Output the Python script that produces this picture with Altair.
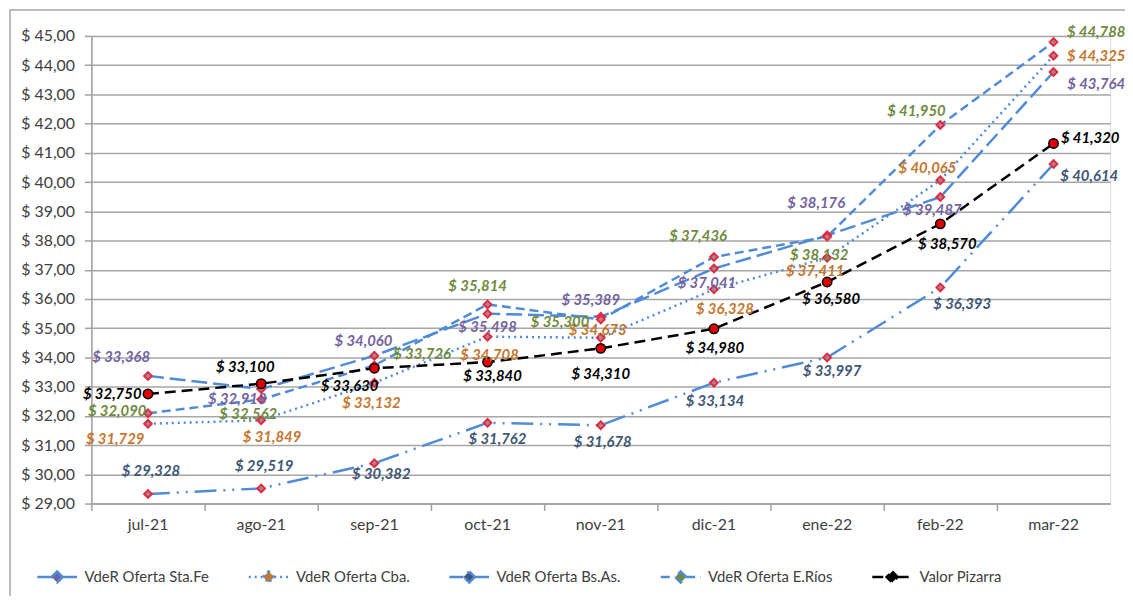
import altair as alt
import pandas as pd

months = ["jul-21", "ago-21", "sep-21", "oct-21", "nov-21", "dic-21", "ene-22", "feb-22", "mar-22"]
series_names = ["VdeR Oferta Sta.Fe", "VdeR Oferta Cba.", "VdeR Oferta Bs.As.", "VdeR Oferta E.Ríos", "Valor Pizarra"]

sta_fe = [33.368, 32.918, 34.060, 35.498, 35.389, 37.041, 38.176, 39.487, 43.764]
cba = [31.729, 31.849, 33.132, 34.708, 34.673, 36.328, 37.411, 40.065, 44.325]
bs_as = [29.328, 29.519, 30.382, 31.762, 31.678, 33.134, 33.997, 36.393, 40.614]
e_rios = [32.090, 32.562, 33.726, 35.814, 35.300, 37.436, 38.132, 41.950, 44.788]
pizarra = [32.750, 33.100, 33.630, 33.840, 34.310, 34.980, 36.580, 38.570, 41.320]

# label placement offsets (pixels), kept apart from the values
label_dx = {
    "VdeR Oferta Sta.Fe": [-27, -24, -11, 0, -10, -7, -11, -8, 43],
    "VdeR Oferta Cba.": [-33, 11, -3, 2, -3, 11, -12, -13, 43],
    "VdeR Oferta Bs.As.": [3, 3, 7, 10, 2, 1, 5, 22, 36],
    "VdeR Oferta E.Ríos": [-31, -13, 48, -10, -41, -16, -8, -24, 43],
    "Valor Pizarra": [-36, -16, -25, 5, 0, 1, 4, 7, 37],
}
label_dy = {
    "VdeR Oferta Sta.Fe": [-19, 10, -15, 13, -17, 15, -33, 13, 12],
    "VdeR Oferta Cba.": [15, 17, 20, 18, -8, 20, 13, -12, 0],
    "VdeR Oferta Bs.As.": [-23, -23, 11, 16, 17, 18, 14, 17, 12],
    "VdeR Oferta E.Ríos": [-2, 15, -11, -18, 3, -21, 19, -14, -10],
    "Valor Pizarra": [0, -17, 18, 14, 26, 19, 17, 20, -5],
}

values_by_series = dict(zip(series_names, [sta_fe, cba, bs_as, e_rios, pizarra]))

rows = []
for s in series_names:
    for i, m in enumerate(months):
        rows.append({"series": s, "month": m, "value": values_by_series[s][i],
                     "dx": label_dx[s][i], "dy": label_dy[s][i]})
df = pd.DataFrame(rows)

line_colors = ["#4F8BD6", "#4F8BD6", "#4F8BD6", "#4F8BD6", "#000000"]
label_colors = ["#7463A0", "#C5762E", "#3E5674", "#6E8A3E", "#000000"]
dashes = [[16, 6], [2, 4], [22, 7, 2, 7, 2, 7], [9, 5], [11, 6]]
widths = [2.5, 2.5, 2.5, 2.5, 4.5]

FONT = "Lato"
PLOT_W, PLOT_H = 1026, 471
Y_MIN, Y_MAX = 29, 45
STEP = PLOT_W / len(months)
PX_PER_UNIT = PLOT_H / (Y_MAX - Y_MIN)

legend_kw = dict(
    title=None, orient="none", legendX=-56, legendY=523, direction="horizontal",
    columns=5, labelFont=FONT, labelFontSize=15, labelColor="#404040",
    symbolType="M-1,0L-0.28,0M0.28,0L1,0M0,-0.28L0.28,0L0,0.28L-0.28,0Z",
    symbolSize=1600, columnPadding=34, labelOffset=6,
)

y_scale = alt.Scale(domain=[Y_MIN, Y_MAX], nice=False, zero=False)
y_axis = alt.Axis(title=None, values=list(range(Y_MIN, Y_MAX + 1)),
                  labelExpr="'$ ' + replace(format(datum.value, '.2f'), '.', ',')",
                  grid=True, gridColor="#A6A6A6", gridWidth=1.5,
                  tickSize=7, tickColor="#A0A0A0", tickWidth=1.5,
                  domainColor="#A0A0A0", domainWidth=1.5,
                  labelFont=FONT, labelFontSize=16, labelColor="#404040",
                  labelPadding=10)

x_enc = alt.X("month:N", sort=months,
              scale=alt.Scale(type="band", domain=months, paddingInner=0, paddingOuter=0),
              axis=alt.Axis(title=None, bandPosition=0, labelAngle=0, grid=False,
                            tickSize=7, tickColor="#A0A0A0", domainColor="#A0A0A0",
                            domainWidth=1.5, tickWidth=1.5, labelFont=FONT, labelFontSize=16,
                            labelColor="#404040", labelPadding=6))
y_enc = alt.Y("value:Q", scale=y_scale, axis=y_axis)

base = alt.Chart(df)

lines = base.mark_line().encode(
    x=x_enc, y=y_enc,
    color=alt.Color("series:N", scale=alt.Scale(domain=series_names, range=line_colors),
                    legend=alt.Legend(**legend_kw)),
    strokeDash=alt.StrokeDash("series:N", scale=alt.Scale(domain=series_names, range=dashes),
                              legend=alt.Legend(**legend_kw)),
    strokeWidth=alt.StrokeWidth("series:N", scale=alt.Scale(domain=series_names, range=widths),
                                legend=None),
)

diamonds = base.transform_filter("datum.series != 'Valor Pizarra'").mark_point(
    shape="diamond", filled=True, fill="#9C8A9E", stroke="#E8283C", strokeWidth=2,
    size=60, opacity=1
).encode(x=x_enc, y=y_enc)

circles = base.transform_filter("datum.series == 'Valor Pizarra'").mark_point(
    shape="circle", filled=True, fill="#E00000", stroke="#000000", strokeWidth=1.5,
    size=90, opacity=1
).encode(x=x_enc, y=y_enc)

labels = base.transform_calculate(
    label="'$ ' + replace(format(datum.value, '.3f'), '.', ',')",
    ly=f"datum.value - datum.dy / {PX_PER_UNIT}",
    lx=f"datum.dx + {STEP / 2}",
).mark_text(font=FONT, fontSize=15, fontWeight="bold", fontStyle="italic",
            align="center", baseline="middle").encode(
    x=x_enc,
    y=alt.Y("ly:Q", scale=y_scale, axis=y_axis),
    text="label:N",
    fill=alt.Fill("series:N", scale=alt.Scale(domain=series_names, range=label_colors), legend=None),
    xOffset=alt.XOffset("lx:Q", scale=None),
)

frame = alt.Chart(alt.Data(values=[{}])).mark_rect(
    filled=False, stroke="#A6A6A6", strokeWidth=1.5
).encode(x=alt.value(-82), x2=alt.value(1060), y=alt.value(-26), y2=alt.value(590))

chart = alt.layer(frame, lines, diamonds, circles, labels).properties(
    width=PLOT_W, height=PLOT_H,
    autosize=alt.AutoSizeParams(type="none"),
    padding={"left": 84, "top": 26, "right": 15, "bottom": 91},
).configure_view(stroke=None).configure(background="white")

chart.save("out.html", embed_options={"renderer": "svg", "actions": False})
